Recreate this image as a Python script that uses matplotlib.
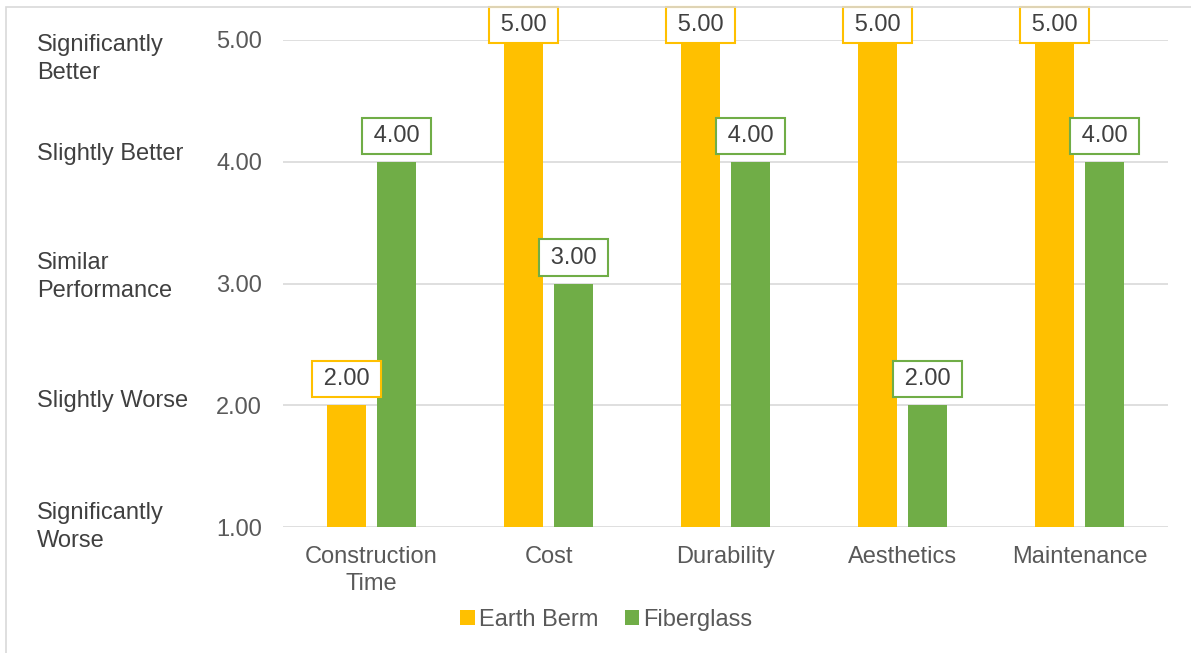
import matplotlib.pyplot as plt
import numpy as np
from matplotlib.patches import Rectangle
from matplotlib.transforms import blended_transform_factory

plt.rcParams['font.family'] = ['Liberation Sans', 'DejaVu Sans']

categories = ["Construction\nTime", "Cost", "Durability", "Aesthetics", "Maintenance"]
earth_berm = [2.00, 5.00, 5.00, 5.00, 5.00]
fiberglass = [4.00, 3.00, 4.00, 2.00, 4.00]
y_ticks = [1, 2, 3, 4, 5]
scale_labels = ["Significantly\nWorse", "Slightly Worse", "Similar\nPerformance",
                "Slightly Better", "Significantly\nBetter"]

orange = "#FFC000"
green = "#70AD47"
text_col = "#595959"
fs = 17

fig = plt.figure(figsize=(11.91, 6.53), dpi=100)
W, H = 1191, 653
ax = fig.add_axes([283 / W, 1 - 527 / H, (1168 - 283) / W, (527 - 40) / H])

# chart area frame (left and top edges visible)
fig.patches.append(Rectangle((6 / W, -0.1), 1.2, 1 - 7 / H + 0.1, transform=fig.transFigure,
                             fill=False, edgecolor="#D9D9D9", linewidth=1.2))

x = np.arange(len(categories))
w = 0.22
off = 0.142
b1 = ax.bar(x - off, np.array(earth_berm) - 1, w, bottom=1, color=orange, label="Earth Berm", zorder=3)
b2 = ax.bar(x + off, np.array(fiberglass) - 1, w, bottom=1, color=green, label="Fiberglass", zorder=3)

ax.set_xlim(-0.5, len(categories) - 0.5)
ax.set_ylim(1, 5)

# value labels: keep boxes inside the chart frame at the top
for bars, vals, col in [(b1, earth_berm, orange), (b2, fiberglass, green)]:
    for rect, v in zip(bars, vals):
        top_px = H - ax.transData.transform((0, v))[1]
        dy = min(26, top_px - 25) * 72 / 100
        ax.annotate(f"\u2009{v:.2f}\u2009", (rect.get_x() + rect.get_width() / 2, v),
                    xytext=(0, dy), textcoords="offset points", ha="center", va="center",
                    fontsize=fs, color="#404040", zorder=5, annotation_clip=False,
                    bbox=dict(boxstyle="square,pad=0.3", fc="white", ec=col, lw=1.5))

ax.set_yticks(y_ticks)
ax.set_yticklabels([f"{t:.2f}" for t in y_ticks])
ax.set_xticks(x)
ax.set_xticklabels(categories, linespacing=1.3)
ax.tick_params(axis="both", length=0, labelsize=fs, labelcolor=text_col)
ax.tick_params(axis="y", pad=15)
ax.tick_params(axis="x", pad=13.5)
ax.grid(axis="y", color="#D9D9D9", linewidth=1.2, zorder=0)
ax.set_axisbelow(True)
for s in ax.spines.values():
    s.set_visible(False)

# verbal scale on the far left
tr = blended_transform_factory(fig.transFigure, ax.transData)
nudge = [0.0, 0.033, 0.05, 0.066, -0.155]
for t, lab, n in zip(y_ticks, scale_labels, nudge):
    ax.text(37 / W, t + n, lab, transform=tr, ha="left", va="center",
            fontsize=fs, color="#404040", linespacing=1.35)

fig.legend(handles=[b1, b2], loc="center", bbox_to_anchor=(606.5 / W, 1 - 620 / H), ncol=2,
           frameon=False, fontsize=fs, labelcolor=text_col, handlelength=0.6,
           handleheight=0.6, handletextpad=0.17, columnspacing=1.15)

fig.savefig("out.png", dpi=100)
